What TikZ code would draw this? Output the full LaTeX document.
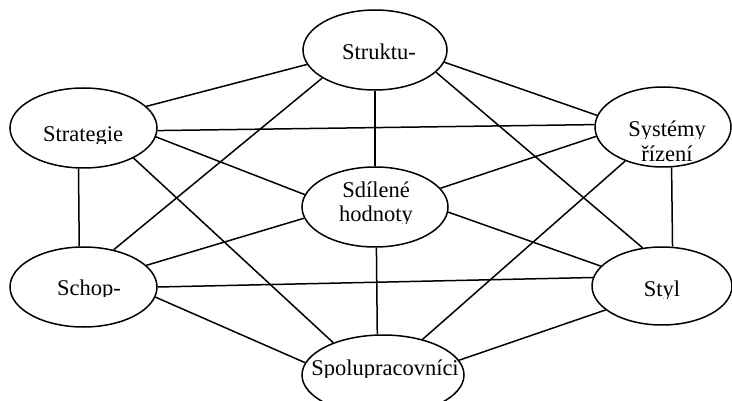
\documentclass[tikz,border=0pt]{standalone}
\usepackage{fontspec}
\setmainfont{Liberation Serif}
\usetikzlibrary{shapes.geometric}
\begin{document}
\begin{tikzpicture}[x=1pt,y=-1pt,
  oval/.style={draw,ellipse,line width=1.5pt,inner sep=0pt},
  link/.style={draw,line width=1.5pt},
  lbl/.style={anchor=base,inner sep=0pt,font=\fontsize{22.5}{25}\selectfont}]
\useasboundingbox (0,0) rectangle (732,401);
\clip (0,0) rectangle (732,401);

% ellipses of the seven elements
\node[oval,minimum width=144pt,minimum height=80pt] (struk) at (375,50) {};
\node[oval,minimum width=147pt,minimum height=80pt] (strat) at (83.5,128) {};
\node[oval,minimum width=136pt,minimum height=80pt] (sys) at (663,127) {};
\node[oval,minimum width=146pt,minimum height=80pt] (sdil) at (375,207) {};
\node[oval,minimum width=147pt,minimum height=80pt] (schop) at (83.5,287) {};
\node[oval,minimum width=140pt,minimum height=78pt] (styl) at (662,286) {};
\node[oval,minimum width=162pt,minimum height=80pt] (spolu) at (383,375) {};

% labels, cut off just below the baseline
\begin{scope}\clip (300,20) rectangle (450,61.5);
\node[lbl] (tstruk) at (379,60) {Struktu-};\end{scope}
\begin{scope}\clip (10,100) rectangle (160,143.5);
\node[lbl] (tstrat) at (83,142) {Strategie};\end{scope}
\begin{scope}\clip (595,100) rectangle (732,138.5);
\node[lbl] (tsys1) at (667,137) {Systémy};\end{scope}
\node[lbl] (tsys2) at (667,162) {řízení};
\begin{scope}\clip (300,175) rectangle (450,199.5);
\node[lbl] (tsdil1) at (376,198) {Sdílené};\end{scope}
\begin{scope}\clip (300,200) rectangle (450,223.5);
\node[lbl] (tsdil2) at (376,222) {hodnoty};\end{scope}
\begin{scope}\clip (10,260) rectangle (160,296.5);
\node[lbl] (tschop) at (89,295) {Schop-};\end{scope}
\begin{scope}\clip (595,260) rectangle (732,298.5);
\node[lbl] (tstyl) at (662,297) {Styl};\end{scope}
\begin{scope}\clip (300,345) rectangle (480,377.5);
\node[lbl] (tspolu) at (385,375) {Spolupracovníci};\end{scope}

% connections
\path[link] (struk.192) -- (strat.19);
\path[link] (struk.350) -- (sys.170);
\path[link] (struk.south) -- (sdil.north);
\path[link] (struk.208) -- (schop.51);
\path[link] (struk.340) -- (styl.117);
\path[link] (strat.358) -- (sys.178);
\path[link] (strat.353) -- (sdil.170);
\path[link] (strat.263.6) -- (schop.96.4);
\path[link] (strat.329.6) -- (spolu.147);
\path[link] (sys.188) -- (sdil.16);
\path[link] (sys.282.7) -- (styl.75.6);
\path[link] (sys.222.6) -- (spolu.42.3);
\path[link] (sdil.189) -- (schop.19);
\path[link] (sdil.356) -- (styl.162.5);
\path[link] (sdil.272.9) -- (spolu.98.5);
\path[link] (schop.0) -- (styl.173.4);
\path[link] (schop.352) -- (spolu.171);
\path[link] (styl.203.6) -- (spolu.11);
\end{tikzpicture}
\end{document}
